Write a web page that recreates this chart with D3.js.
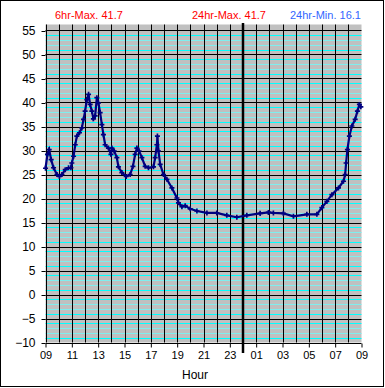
<!DOCTYPE html>
<html>
<head>
<meta charset="utf-8">
<script src="https://cdn.jsdelivr.net/npm/d3@7"></script>
<style>
  body { margin: 0; background: #fff; }
  text { font-family: "Liberation Sans", Arial, sans-serif; }
</style>
</head>
<body>
<div id="chart"></div>
<script>
// hours since 09:00 and temperature readings
const hours = [0, 0.15, 0.28, 0.43, 0.61, 0.87, 1.06, 1.25, 1.5, 1.75, 1.93, 2.0, 2.13, 2.26, 2.38, 2.58,
    2.76, 2.89, 3.01, 3.14, 3.27, 3.39, 3.52, 3.64, 3.77, 3.9, 4.02, 4.15, 4.28, 4.4, 4.53, 4.78, 4.97,
    5.04, 5.22, 5.42, 5.54, 5.8, 6.13, 6.43, 6.64, 6.81, 6.94, 7.11, 7.32, 7.57, 7.82, 8.2, 8.33, 8.46,
    8.5, 8.58, 8.71, 8.96, 9.22, 9.6, 9.98, 10.1, 10.36, 10.61, 10.99, 11.5, 12.26, 13.01, 13.77, 14.53,
    15.29, 16.3, 16.93, 17.31, 18.07, 18.83, 19.85, 20.61, 20.99, 21.37, 21.75, 22.25, 22.63, 22.76,
    22.83, 22.93, 23.08, 23.27, 23.52, 23.69, 23.84, 23.95];
const temps = [26.3, 29.2, 30.2, 28.1, 26.4, 25.0, 24.6, 25.0, 26.0, 26.4, 26.4, 27.4, 28.8, 31.2, 33.0, 33.7,
    34.7, 36.5, 38.2, 40.6, 41.7, 39.6, 38.2, 36.6, 37.2, 41.0, 39.9, 37.9, 35.4, 33.3, 31.2, 30.5, 29.2,
    30.5, 29.9, 28.5, 26.6, 25.4, 24.6, 25.0, 26.7, 29.2, 30.5, 29.9, 28.5, 26.7, 26.4, 26.6, 28.5, 31.2,
    33.0, 29.9, 27.1, 25.0, 24.0, 22.2, 20.1, 19.1, 18.3, 18.5, 17.85, 17.4, 17.0, 17.0, 16.5, 16.1,
    16.5, 16.9, 17.1, 17.0, 16.9, 16.3, 16.7, 16.7, 18.1, 19.4, 20.8, 22.2, 23.6, 25.0,
    27.4, 30.2, 33.0, 35.1, 36.5, 38.2, 39.6, 39.1];
const hour_labels = ['09', '11', '13', '15', '17', '19', '21', '23', '01', '03', '05', '07', '09'];
const y_ticks = [-10, -5, 0, 5, 10, 15, 20, 25, 30, 35, 40, 45, 50, 55];
const header = [
    { text: '6hr-Max. 41.7', color: '#ff0000', x: 55 },
    { text: '24hr-Max. 41.7', color: '#ff0000', x: 192 },
    { text: '24hr-Min. 16.1', color: '#3366ff', x: 290 }
];

const chart_width = 385;
const chart_height = 388;
const data = hours.map((h, i) => [h, temps[i]]);

const svg = d3.select('#chart')
    .append('svg')
    .attr('width', chart_width)
    .attr('height', chart_height);

// outer frame
svg.append('rect')
    .attr('x', 0.5).attr('y', 0.5)
    .attr('width', 383).attr('height', 386)
    .attr('fill', '#fff').attr('stroke', '#000');

const x_scale = d3.scaleLinear().domain([0, 24]).range([45.5, 361.5]);
const y_scale = d3.scaleLinear().domain([-10, 56.25]).range([342.5, 24.5]);

// plot background
svg.append('rect')
    .attr('x', x_scale(0)).attr('y', y_scale(56.25))
    .attr('width', x_scale(24) - x_scale(0))
    .attr('height', y_scale(-10) - y_scale(56.25))
    .attr('fill', '#c0c0c0');

// minor cyan lines at each degree
const minor = d3.range(-9, 56).filter(v => (v + 10) % 5 !== 0);
svg.selectAll('.minor')
    .data(minor)
    .enter()
    .append('line')
    .attr('x1', x_scale(0)).attr('x2', x_scale(24))
    .attr('y1', d => Math.round(y_scale(d)) + 0.5)
    .attr('y2', d => Math.round(y_scale(d)) + 0.5)
    .attr('stroke', d => {
        const m = ((d % 5) + 5) % 5;
        return (m === 1 || m === 4) ? '#00ffff' : '#80eeee';
    });

// major horizontal lines
svg.selectAll('.hmajor')
    .data(y_ticks)
    .enter()
    .append('line')
    .attr('x1', x_scale(0)).attr('x2', x_scale(24))
    .attr('y1', d => Math.round(y_scale(d)) + 0.5)
    .attr('y2', d => Math.round(y_scale(d)) + 0.5)
    .attr('stroke', '#000');

// hourly vertical lines
svg.selectAll('.vmajor')
    .data(d3.range(0, 24))
    .enter()
    .append('line')
    .attr('x1', d => Math.round(x_scale(d)) + 0.5)
    .attr('x2', d => Math.round(x_scale(d)) + 0.5)
    .attr('y1', y_scale(56.25)).attr('y2', y_scale(-10))
    .attr('stroke', '#000');

// midnight marker
svg.append('line')
    .attr('x1', x_scale(15)).attr('x2', x_scale(15))
    .attr('y1', 23).attr('y2', 353)
    .attr('stroke', '#000')
    .attr('stroke-width', 2.5);

// axes
const x_axis = d3.axisBottom(x_scale)
    .tickValues(d3.range(0, 25, 2))
    .tickFormat((d, i) => hour_labels[i])
    .tickSize(4).tickPadding(4);
svg.append('g')
    .attr('transform', 'translate(0,' + (Math.round(y_scale(-10)) + 0.5) + ')')
    .call(x_axis)
    .call(g => g.select('.domain').remove())
    .call(g => g.selectAll('text').attr('font-size', 11).attr('fill', '#000')
        .style('font-family', '"Liberation Sans", Arial, sans-serif'));

const y_axis = d3.axisLeft(y_scale)
    .tickValues(y_ticks)
    .tickSize(4).tickPadding(6);
svg.append('g')
    .attr('transform', 'translate(' + x_scale(0) + ',0)')
    .call(y_axis)
    .call(g => g.select('.domain').remove())
    .call(g => g.selectAll('.tick line').attr('transform', 'translate(0,0.5)'))
    .call(g => g.selectAll('text').attr('font-size', 12).attr('fill', '#000')
        .style('font-family', '"Liberation Sans", Arial, sans-serif'));

svg.append('text')
    .attr('x', 195).attr('y', 379)
    .attr('text-anchor', 'middle')
    .attr('font-size', 12)
    .text('Hour');

// header
svg.selectAll('.hdr')
    .data(header)
    .enter()
    .append('text')
    .attr('x', d => d.x).attr('y', 19)
    .attr('font-size', 11)
    .attr('fill', d => d.color)
    .text(d => d.text);

// temperature series
const line = d3.line()
    .x(d => x_scale(d[0]))
    .y(d => y_scale(d[1]));
svg.append('path')
    .datum(data)
    .attr('d', line)
    .attr('fill', 'none')
    .attr('stroke', '#000080')
    .attr('stroke-width', 2.2);

svg.selectAll('.pt')
    .data(data)
    .enter()
    .append('path')
    .attr('d', d3.symbol(d3.symbolCross, 14))
    .attr('transform', d => 'translate(' + x_scale(d[0]) + ',' + y_scale(d[1]) + ')')
    .attr('fill', '#000080');
</script>
</body>
</html>
